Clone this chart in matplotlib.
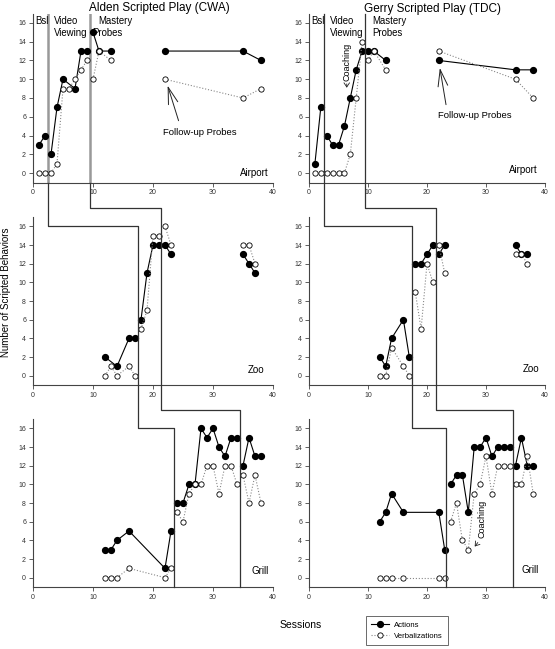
import matplotlib
matplotlib.use("Agg")
import matplotlib.pyplot as plt
from matplotlib.lines import Line2D

plt.rcParams["font.family"] = ["Liberation Sans", "DejaVu Sans"]

W, H = 555, 649

# --- data: each series is a list of connected segments (sessions, values) ---
alden_airport_act = [
    ([1, 2], [3, 4]),
    ([3, 4, 5, 7, 8, 9], [2, 7, 10, 9, 13, 13]),
    ([10, 11, 13], [15, 13, 13]),
    ([22, 35, 38], [13, 13, 12]),
]
alden_airport_verb = [
    ([1, 2], [0, 0]),
    ([3, 4, 5, 6, 7, 8, 9], [0, 1, 9, 9, 10, 11, 12]),
    ([10, 11, 13], [10, 13, 12]),
    ([22, 35, 38], [10, 8, 9]),
]
alden_zoo_act = [
    ([12, 14, 16, 17], [2, 1, 4, 4]),
    ([18, 19, 20, 21], [6, 11, 14, 14]),
    ([22, 23], [14, 13]),
    ([35, 36, 37], [13, 12, 11]),
]
alden_zoo_verb = [
    ([12, 13, 14, 16, 17], [0, 1, 0, 1, 0]),
    ([18, 19, 20, 21], [5, 7, 15, 15]),
    ([22, 23], [16, 14]),
    ([35, 36, 37], [14, 14, 12]),
]
alden_grill_act = [
    ([12, 13, 14, 16, 22, 23], [3, 3, 4, 5, 1, 5]),
    ([24, 25, 26, 27, 28, 29, 30, 31, 32, 33, 34], [8, 8, 10, 10, 16, 15, 16, 14, 13, 15, 15]),
    ([35, 36, 37, 38], [12, 15, 13, 13]),
]
alden_grill_verb = [
    ([12, 13, 14, 16, 22, 23], [0, 0, 0, 1, 0, 1]),
    ([24, 25, 26, 27, 28, 29, 30, 31, 32, 33, 34], [7, 6, 9, 10, 10, 12, 12, 9, 12, 12, 10]),
    ([35, 36, 37, 38], [11, 8, 11, 8]),
]

gerry_airport_act = [
    ([1, 2], [1, 7]),
    ([3, 4, 5, 6, 7, 8, 9], [4, 3, 3, 5, 8, 11, 13]),
    ([10, 11, 13], [13, 13, 12]),
    ([22, 35, 38], [12, 11, 11]),
]
gerry_airport_verb = [
    ([1, 2], [0, 0]),
    ([3, 4, 5, 6, 7, 8, 9], [0, 0, 0, 0, 2, 8, 14]),
    ([10, 11, 13], [12, 13, 11]),
    ([22, 35, 38], [13, 10, 8]),
]
gerry_zoo_act = [
    ([12, 13, 14, 16, 17], [2, 1, 4, 6, 2]),
    ([18, 19, 20, 21], [12, 12, 13, 14]),
    ([22, 23], [13, 14]),
    ([35, 36, 37], [14, 13, 13]),
]
gerry_zoo_verb = [
    ([12, 13, 14, 16, 17], [0, 0, 3, 1, 0]),
    ([18, 19, 20, 21], [9, 5, 12, 10]),
    ([22, 23], [14, 11]),
    ([35, 36, 37], [13, 13, 12]),
]
gerry_grill_act = [
    ([12, 13, 14, 16, 22, 23], [6, 7, 9, 7, 7, 3]),
    ([24, 25, 26, 27, 28, 29, 30, 31, 32, 33, 34], [10, 11, 11, 7, 14, 14, 15, 13, 14, 14, 14]),
    ([35, 36, 37, 38], [12, 15, 12, 12]),
]
gerry_grill_verb = [
    ([12, 13, 14, 16, 22, 23], [0, 0, 0, 0, 0, 0]),
    ([24, 25, 26, 27, 28, 29, 30, 31, 32, 33, 34], [6, 8, 4, 3, 9, 10, 13, 9, 12, 12, 12]),
    ([35, 36, 37, 38], [10, 10, 13, 9]),
]

# phase-change lines (session where the line crosses each row)
alden_phase = [[2.5, 17.5, 23.5], [9.5, 21.3, 34.5]]
gerry_phase = [[2.5, 17.5, 23.2], [9.5, 21.5, 34.5]]

settings = ["Airport", "Zoo", "Grill"]
titles = ["Alden Scripted Play (CWA)", "Gerry Scripted Play (TDC)"]

# --- layout in pixels -------------------------------------------------------
col_x = [(33, 273), (309, 545)]
row_y = [(13.5, 182.5), (217, 385), (419, 587)]

AX_COL = "#444444"

fig = plt.figure(figsize=(W / 100, H / 100), dpi=100)


def make_ax(c, r):
    x0, x1 = col_x[c]
    y0, y1 = row_y[r]
    ax = fig.add_axes([x0 / W, 1 - y1 / H, (x1 - x0) / W, (y1 - y0) / H])
    ax.set_xlim(0, 40)
    ax.set_ylim(-1, 17)
    ax.set_xticks([0, 10, 20, 30, 40])
    ax.set_yticks(range(0, 17, 2))
    for s in ("top", "right"):
        ax.spines[s].set_visible(False)
    for s in ("left", "bottom"):
        ax.spines[s].set_color(AX_COL)
        ax.spines[s].set_linewidth(0.8)
    ax.tick_params(direction="out", length=3, width=0.6, color=AX_COL,
                   labelsize=5, labelcolor="#333333", pad=2)
    ax.patch.set_alpha(0)
    return ax


def draw_series(ax, act, verb):
    for xs, ys in act:
        ax.plot(xs, ys, "-", color="black", lw=0.8, marker="o", ms=4.2,
                mfc="black", mec="black", zorder=3)
    for xs, ys in verb:
        ax.plot(xs, ys, ":", color="#888888", lw=0.8, zorder=4)
        ax.plot(xs, ys, "none", marker="o", ms=3.8, mfc="white", mec="black",
                mew=0.6, zorder=5)


panels = [
    [(alden_airport_act, alden_airport_verb), (alden_zoo_act, alden_zoo_verb),
     (alden_grill_act, alden_grill_verb)],
    [(gerry_airport_act, gerry_airport_verb), (gerry_zoo_act, gerry_zoo_verb),
     (gerry_grill_act, gerry_grill_verb)],
]
label_pos = [[(39.3, 0.0), (38.6, 0.6), (39.3, 0.7)],
             [(38.8, 0.3), (39.0, 0.7), (39.0, 0.8)]]

axes = []
for c in range(2):
    col = []
    for r in range(3):
        ax = make_ax(c, r)
        act, verb = panels[c][r]
        draw_series(ax, act, verb)
        lx, ly = label_pos[c][r]
        ax.text(lx, ly, settings[r], ha="right", va="center", fontsize=7)
        col.append(ax)
    axes.append(col)

# --- phase-change lines drawn across the stacked panels ---------------------
to_fig = fig.transFigure.inverted()


def fig_pt(ax, x, y):
    return to_fig.transform(ax.transData.transform((x, y)))


for c, phase in enumerate([alden_phase, gerry_phase]):
    a1, a2, a3 = axes[c]
    for k, (p1, p2, p3) in enumerate(phase):
        step = 16 if k == 0 else 18
        # left column: the top-row part is a thicker gray line (drawn in the axes)
        top = -1 if c == 0 else 17
        pts = [fig_pt(a1, p1, top), fig_pt(a2, p1, step), fig_pt(a2, p2, step),
               fig_pt(a3, p2, step), fig_pt(a3, p3, step), fig_pt(a3, p3, -1)]
        fig.add_artist(Line2D([p[0] for p in pts], [p[1] for p in pts],
                              transform=fig.transFigure, color="#333333", lw=0.9))
        if c == 0:
            a1.axvline(p1, color="#999999", lw=1.8, zorder=2)

# --- phase labels and annotations ------------------------------------------
PH_FS = 6.9
a = axes[0][0]
a.text(0.4, 16.2, "Bsl", ha="left", va="center", fontsize=PH_FS)
a.text(3.5, 16.2, "Video", ha="left", va="center", fontsize=PH_FS)
a.text(3.5, 14.9, "Viewing", ha="left", va="center", fontsize=PH_FS)
a.text(10.8, 16.2, "Mastery", ha="left", va="center", fontsize=PH_FS)
a.text(9.9, 14.9, "Probes", ha="left", va="center", fontsize=PH_FS)
a.text(27.8, 4.3, "Follow-up Probes", ha="center", va="center", fontsize=6.8)
a.annotate("", xy=(22.3, 9.6), xytext=(24.4, 5.3),
           arrowprops=dict(arrowstyle="->,head_length=1.2,head_width=0.35",
                           color="#222222", lw=0.7))

g = axes[1][0]
g.text(0.45, 16.2, "Bsl", ha="left", va="center", fontsize=PH_FS)
g.text(3.5, 16.2, "Video", ha="left", va="center", fontsize=PH_FS)
g.text(3.5, 14.9, "Viewing", ha="left", va="center", fontsize=PH_FS)
g.text(10.8, 16.2, "Mastery", ha="left", va="center", fontsize=PH_FS)
g.text(10.8, 14.9, "Probes", ha="left", va="center", fontsize=PH_FS)
g.text(6.4, 11.8, "Coaching", rotation=90, ha="center", va="center", fontsize=6.5)
g.annotate("", xy=(6.4, 8.8), xytext=(6.4, 9.8),
           arrowprops=dict(arrowstyle="->,head_length=0.3,head_width=0.2",
                           color="#222222", lw=0.6))
g.text(28.1, 6.1, "Follow-up Probes", ha="center", va="center", fontsize=6.8)
g.annotate("", xy=(22.1, 11.5), xytext=(23.3, 7.0),
           arrowprops=dict(arrowstyle="->,head_length=1.2,head_width=0.35",
                           color="#222222", lw=0.7))

gg = axes[1][2]
gg.text(29.3, 6.3, "Coaching", rotation=90, ha="center", va="center", fontsize=6.5)
gg.annotate("", xy=(27.8, 3.1), xytext=(28.9, 4.0),
            arrowprops=dict(arrowstyle="->,head_length=0.3,head_width=0.2",
                            color="#222222", lw=0.6))

# --- titles, axis labels, legend -------------------------------------------
fig.text(159 / W, 1 - 8 / H, titles[0], ha="center", va="center", fontsize=8.5)
fig.text(433 / W, 1 - 9 / H, titles[1], ha="center", va="center", fontsize=8.5)
fig.text(6 / W, 1 - 292 / H, "Number of Scripted Behaviors", rotation=90,
         ha="center", va="center", fontsize=7)
fig.text(301 / W, 1 - 625 / H, "Sessions", ha="center", va="center", fontsize=7.5)

handles = [
    Line2D([], [], color="black", lw=0.8, marker="o", ms=4.2, mfc="black", mec="black"),
    Line2D([], [], color="#888888", lw=0.8, ls=":", marker="o", ms=3.8,
           mfc="white", mec="black", mew=0.6),
]
leg = fig.legend(handles, ["Actions", "Verbalizations"], loc="upper left",
                 bbox_to_anchor=(366 / W, 1 - 616 / H), fontsize=5.6,
                 frameon=True, fancybox=False, edgecolor=AX_COL,
                 handlelength=2.3, borderpad=0.7, labelspacing=0.45,
                 handletextpad=0.6, borderaxespad=0)
leg.get_frame().set_linewidth(0.7)

fig.savefig("out.png", dpi=100)
